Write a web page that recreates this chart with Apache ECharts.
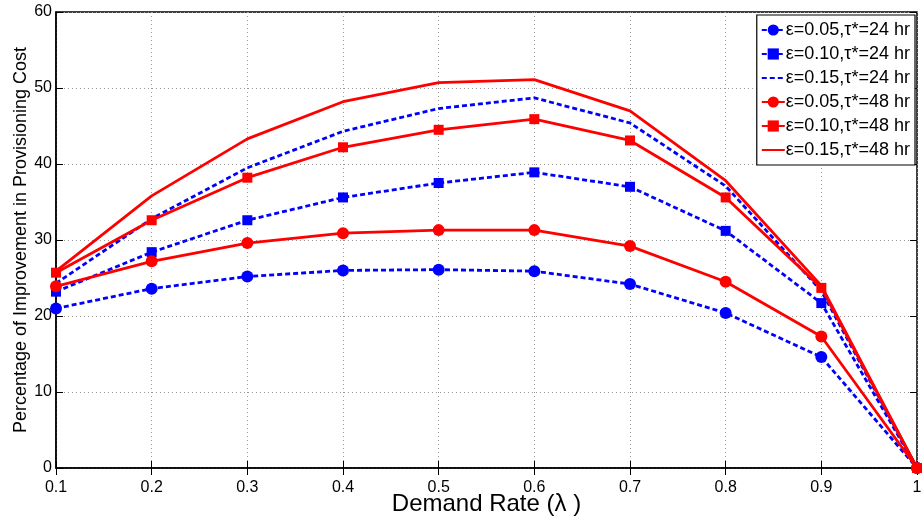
<!DOCTYPE html>
<html><head><meta charset="utf-8">
<script src="https://cdn.jsdelivr.net/npm/echarts@6/dist/echarts.min.js"></script>
<style>html,body{margin:0;padding:0;background:#fff}#c{width:922px;height:518px}</style>
</head><body><div id="c"></div>
<script>
const categories = ["0.1","0.2","0.3","0.4","0.5","0.6","0.7","0.8","0.9","1"];
const yTicks = [0,10,20,30,40,50,60];
const seriesNames = ["ε=0.05,τ*=24 hr","ε=0.10,τ*=24 hr","ε=0.15,τ*=24 hr","ε=0.05,τ*=48 hr","ε=0.10,τ*=48 hr","ε=0.15,τ*=48 hr"];
const e05_24 = [21.0, 23.6, 25.2, 26.0, 26.1, 25.9, 24.2, 20.4, 14.6, 0];
const e10_24 = [23.2, 28.4, 32.6, 35.6, 37.5, 38.9, 37.0, 31.2, 21.7, 0];
const e15_24 = [24.3, 32.8, 39.5, 44.3, 47.3, 48.7, 45.4, 37.1, 23.3, 0];
const e05_48 = [23.9, 27.2, 29.6, 30.9, 31.3, 31.3, 29.2, 24.5, 17.3, 0];
const e10_48 = [25.7, 32.6, 38.2, 42.2, 44.5, 45.9, 43.1, 35.6, 23.7, 0];
const e15_48 = [25.9, 35.8, 43.3, 48.2, 50.7, 51.1, 47.0, 37.8, 24.0, 0];

const BLUE = '#0000ff', RED = '#ff0000';
const dash = [5, 3];
function mk(name, data, color, symbol, lineType) {
  return {
    name, type: 'line', data, xAxisIndex: 0, yAxisIndex: 0,
    symbol: symbol || 'none', symbolSize: symbol === 'rect' ? 10 : 12,
    showSymbol: !!symbol,
    itemStyle: { color },
    lineStyle: { color, width: 2.8, type: lineType },
    emphasis: { disabled: true }, animation: false
  };
}
const chart = echarts.init(document.getElementById('c'));
const FONT = 'Liberation Sans';
const legendData = seriesNames.map((n, i) => (i === 2 || i === 5) ? { name: n, itemStyle: { opacity: 0 } } : { name: n });
chart.setOption({
  animation: false,
  grid: { left: 56, right: 5, top: 12, bottom: 50, show: true, borderColor: '#000', borderWidth: 1.5,
          containLabel: false, outerBoundsMode: 'none' },
  legend: {
    right: 7, top: 15, orient: 'vertical', backgroundColor: '#fff',
    borderColor: '#000', borderWidth: 1.2, padding: [6, 5, 6, 4], itemGap: 6,
    itemWidth: 23, itemHeight: 14,
    textStyle: { color: '#000', fontFamily: FONT, fontSize: 18, padding: [0,0,0,-4] },
    data: legendData
  },
  xAxis: [{
    type: 'category', data: categories, boundaryGap: false,
    axisLine: { lineStyle: { color: '#000', width: 1.5 } },
    axisTick: { inside: true, length: 7, lineStyle: { color: '#000' } },
    axisLabel: { margin: 12, color: '#000', fontFamily: FONT, fontSize: 16 },
    splitLine: { show: true, lineStyle: { color: '#999', type: [1, 3] } },
    name: 'Demand Rate (λ )', nameLocation: 'middle', nameGap: 24, nameMoveOverlap: false,
    nameTextStyle: { color: '#000', fontFamily: FONT, fontSize: 24 }
  }, {
    type: 'category', data: categories, boundaryGap: false, position: 'top',
    axisLine: { show: false }, axisLabel: { show: false },
    axisTick: { inside: true, length: 7, lineStyle: { color: '#000' } }, splitLine: { show: false }
  }],
  yAxis: [{
    type: 'value', min: 0, max: 60, interval: 10,
    axisLine: { show: true, lineStyle: { color: '#000', width: 1.5 } },
    axisTick: { show: true, inside: true, length: 7, lineStyle: { color: '#000' } },
    axisLabel: { margin: 4, color: '#000', fontFamily: FONT, fontSize: 16 },
    splitLine: { show: true, lineStyle: { color: '#999', type: [1, 3] } },
    name: 'Percentage of Improvement in Provisioning Cost', nameLocation: 'middle', nameGap: 26, nameMoveOverlap: false,
    nameTextStyle: { color: '#000', fontFamily: FONT, fontSize: 18 }
  }, {
    type: 'value', min: 0, max: 60, interval: 10, position: 'right',
    axisLine: { show: false }, axisLabel: { show: false },
    axisTick: { show: true, inside: true, length: 7, lineStyle: { color: '#000' } }, splitLine: { show: false }
  }],
  series: [
    mk(seriesNames[0], e05_24, BLUE, 'circle', dash),
    mk(seriesNames[1], e10_24, BLUE, 'rect', dash),
    mk(seriesNames[2], e15_24, BLUE, null, dash),
    mk(seriesNames[3], e05_48, RED, 'circle', 'solid'),
    mk(seriesNames[4], e10_48, RED, 'rect', 'solid'),
    mk(seriesNames[5], e15_48, RED, null, 'solid')
  ]
});
</script></body></html>
